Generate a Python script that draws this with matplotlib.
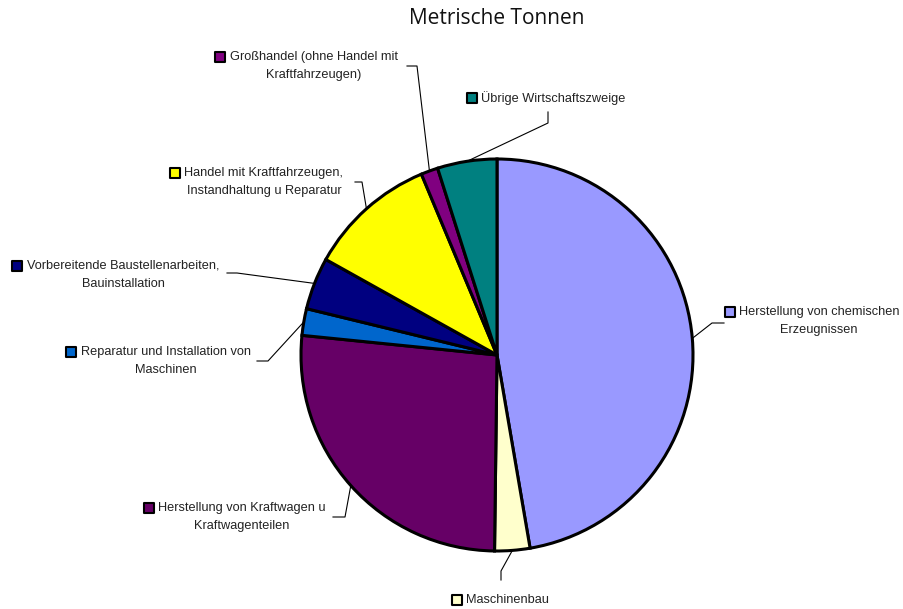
import numpy as np
import matplotlib
matplotlib.use('Agg')
import matplotlib.pyplot as plt

# Anteile in Prozent, im Uhrzeigersinn ab 12 Uhr
kategorien = [
    'Herstellung von chemischen\nErzeugnissen',
    'Maschinenbau',
    'Herstellung von Kraftwagen u\nKraftwagenteilen',
    'Reparatur und Installation von\nMaschinen',
    'Vorbereitende Baustellenarbeiten,\nBauinstallation',
    'Handel mit Kraftfahrzeugen,\nInstandhaltung u Reparatur',
    'Großhandel (ohne Handel mit\nKraftfahrzeugen)',
    'Übrige Wirtschaftszweige',
]
anteile = [47.3, 2.9, 26.4, 2.2, 4.3, 10.6, 1.4, 4.9]
farben = ['#9999FF', '#FFFFCC', '#660066', '#0066CC', '#000080',
          '#FFFF00', '#800080', '#008080']

titel = 'Metrische Tonnen'

W, H = 904, 609
fig = plt.figure(figsize=(W / 100, H / 100), dpi=100)
ax = fig.add_axes([0, 0, 1, 1])

cx, cy, r = 497, 355, 196
# y-Achse zeigt nach unten (Pixel), daher startangle=-90 und counterclock -> optisch im Uhrzeigersinn
wedges, _ = ax.pie(anteile, colors=farben, startangle=-90, counterclock=True,
                   center=(cx, cy), radius=r,
                   wedgeprops=dict(edgecolor='black', linewidth=2.2))
ax.set_xlim(0, W)
ax.set_ylim(H, 0)
ax.set_aspect('equal')
ax.axis('off')

ax.text(497, 18, titel, ha='center', va='center', fontsize=15,
        family='Open Sans', color='#111111')

# Beschriftung: Textmitte, erste Zeile, Markerposition, Knickpunkte der Führungslinie
labels_pos = [
    dict(tx=819, ty=312, mx=730, knick=[(724, 323), (712, 323)]),
    dict(tx=507, ty=600, mx=457, knick=[(501, 580), (501, 571)]),
    dict(tx=242, ty=508, mx=149, knick=[(333, 517), (345, 517)]),
    dict(tx=166, ty=352, mx=71, knick=[(257, 361), (268, 361)]),
    dict(tx=123, ty=266, mx=17, knick=[(227, 273), (237, 273)]),
    dict(tx=264, ty=173, mx=175, knick=[(355, 182), (362, 182)]),
    dict(tx=314, ty=57, mx=220, knick=[(407, 66), (417, 66)]),
    dict(tx=553, ty=98, mx=472, knick=[(548, 112), (548, 123)]),
]

for w, name, col, lp in zip(wedges, kategorien, farben, labels_pos):
    mid = np.deg2rad((w.theta1 + w.theta2) / 2)
    ex, ey = cx + r * np.cos(mid), cy + r * np.sin(mid)
    pts = lp['knick'] + [(ex, ey)]
    ax.plot([p[0] for p in pts], [p[1] for p in pts], color='black', lw=0.8)
    for i, zeile in enumerate(name.split('\n')):
        ax.text(lp['tx'], lp['ty'] + 18 * i, zeile, ha='center', va='center',
                fontsize=9.2, family='Liberation Sans', color='#222222')
    ax.scatter([lp['mx']], [lp['ty']], marker='s', s=42, color=col,
               edgecolors='black', linewidths=1.5, zorder=5)

fig.savefig('out.png', dpi=100)
